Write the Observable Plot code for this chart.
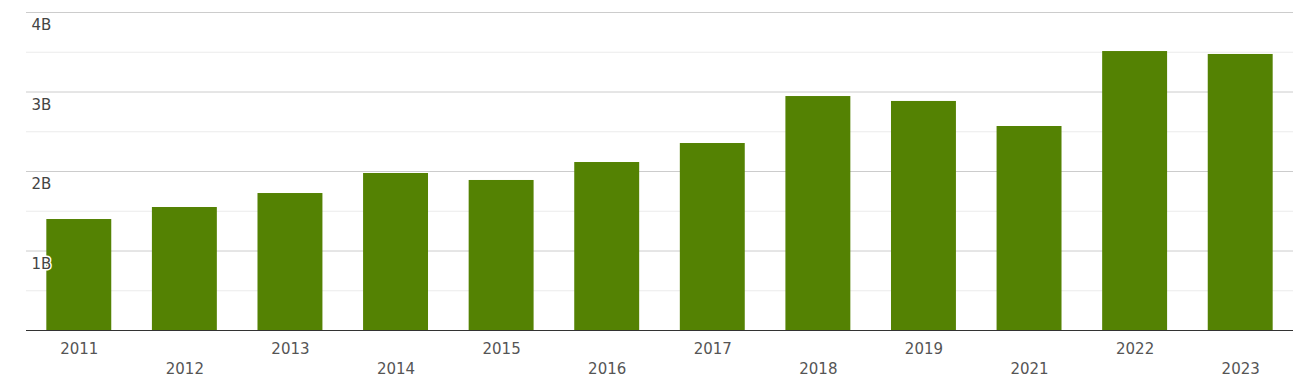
<!DOCTYPE html>
<html>
<head>
<meta charset="utf-8">
<script src="https://cdn.jsdelivr.net/npm/d3@7"></script>
<script src="https://cdn.jsdelivr.net/npm/@observablehq/plot@0.6"></script>
<style>
  html, body { margin: 0; padding: 0; background: #fff; }
  #chart svg { display: block; }
</style>
</head>
<body>
<div id="chart"></div>
<script>
const years = ["2011","2012","2013","2014","2015","2016","2017","2018","2019","2021","2022","2023"];
const values = [1.396e9, 1.547e9, 1.723e9, 1.975e9, 1.887e9, 2.113e9, 2.352e9, 2.943e9, 2.881e9, 2.566e9, 3.509e9, 3.472e9];
const majorTicks = [1e9, 2e9, 3e9, 4e9];
const minorTicks = [0.5e9, 1.5e9, 2.5e9, 3.5e9];
const tickLabels = ["1B", "2B", "3B", "4B"];

const data = years.map((y, i) => ({year: y, value: values[i]}));
const labels = majorTicks.map((t, i) => ({t, label: tickLabels[i]}));
const upper = years.filter((_, i) => i % 2 === 0);
const lower = years.filter((_, i) => i % 2 === 1);

const chart = Plot.plot({
  width: 1293,
  height: 384,
  marginLeft: 26,
  marginRight: 0,
  marginTop: 12,
  marginBottom: 54,
  style: {fontFamily: "DejaVu Sans", fontSize: "15px", background: "#fff"},
  x: {domain: years, paddingInner: 0.385, paddingOuter: 0.1925, round: false, axis: null, label: null},
  y: {domain: [0, 4e9], axis: null},
  marks: [
    Plot.ruleY(minorTicks, {stroke: "#ebebeb", strokeWidth: 1}),
    Plot.ruleY(majorTicks, {stroke: "#cccccc", strokeWidth: 1}),
    Plot.barY(data, {x: "year", y: "value", fill: "#548203"}),
    Plot.ruleY([0], {stroke: "#333333", strokeWidth: 1}),
    Plot.text(labels, {y: "t", text: "label", frameAnchor: "left", dx: 5, dy: 13, textAnchor: "start", lineAnchor: "middle", fill: "#444", stroke: "white", strokeWidth: 3, fontSize: 15}),
    Plot.axisX(upper, {tickSize: 0, tickPadding: 13, fill: "#555", fontSize: 15, label: null}),
    Plot.axisX(lower, {tickSize: 0, tickPadding: 33, fill: "#555", fontSize: 15, label: null})
  ]
});
document.getElementById("chart").appendChild(chart);
</script>
</body>
</html>
